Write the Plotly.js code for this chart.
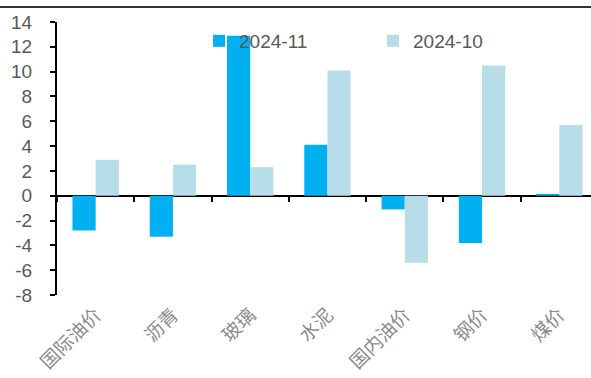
<!DOCTYPE html>
<html>
<head>
<meta charset="utf-8">
<script src="https://cdn.plot.ly/plotly-3.0.1.min.js"></script>
<style>html,body{margin:0;padding:0;background:#fff;}#chart{width:591px;height:378px;}</style>
</head>
<body>
<div id="chart"></div>
<script>
const categories = ["国际油价", "沥青", "玻璃", "水泥", "国内油价", "钢价", "煤价"];
const series2024_11 = [-2.8, -3.3, 12.9, 4.1, -1.1, -3.8, 0.15];
const series2024_10 = [2.9, 2.5, 2.3, 10.1, -5.4, 10.5, 5.7];
const seriesNames = ["2024-11", "2024-10"];
const yTicks = [-8, -6, -4, -2, 0, 2, 4, 6, 8, 10, 12, 14];

const traces = [
  {type: "bar", x: categories, y: series2024_11, name: seriesNames[0],
   marker: {color: "#00B0F0"}, hoverinfo: "x+y"},
  {type: "bar", x: categories, y: series2024_10, name: seriesNames[1],
   marker: {color: "#B7DEE8"}, hoverinfo: "x+y"},
  {type: "bar", x: categories, y: categories.map(() => null), xaxis: "x2",
   showlegend: false, hoverinfo: "skip", marker: {color: "rgba(0,0,0,0)"}}
];

const layout = {
  width: 591, height: 378,
  margin: {l: 57, r: 0, t: 22, b: 83},
  paper_bgcolor: "#fff", plot_bgcolor: "#fff",
  barmode: "group", bargap: 0.4, bargroupgap: 0,
  showlegend: true,
  legend: {orientation: "h", x: 0.266, xanchor: "left", y: 1.0, yanchor: "top",
    font: {family: "Liberation Sans, Arial", size: 19, color: "#595959"},
    bgcolor: "rgba(0,0,0,0)", entrywidth: 129, entrywidthmode: "pixels",
    itemwidth: 30, traceorder: "normal"},
  xaxis: {type: "category", range: [-0.5, 6.41], showline: false, ticks: "",
    showgrid: false, zeroline: false, tickangle: -45, ticklabelstandoff: 4,
    tickfont: {family: "Noto Sans CJK SC", size: 19, color: "#8c8c8c"}},
  xaxis2: {type: "category", overlaying: "x", matches: "x", anchor: "free",
    position: 8/22, side: "bottom", showline: false, showgrid: false, zeroline: false,
    ticks: "outside", ticklen: 5, tickwidth: 2, tickcolor: "#000",
    tickson: "boundaries", showticklabels: false},
  yaxis: {range: [-8, 14], tickvals: yTicks, ticktext: yTicks.map(String),
    showline: true, linecolor: "#000", linewidth: 2,
    ticks: "outside", ticklen: 5, tickwidth: 2, tickcolor: "#000",
    showgrid: false, zeroline: true, zerolinecolor: "#000", zerolinewidth: 2,
    ticklabelstandoff: 14,
    tickfont: {family: "Liberation Sans, Arial", size: 19, color: "#595959"}},
  shapes: [
    {type: "line", xref: "paper", yref: "paper", x0: -0.11, x1: 1, y0: 1.055, y1: 1.055,
     line: {color: "#333", width: 2}}
  ]
};

Plotly.newPlot("chart", traces, layout, {displayModeBar: false, staticPlot: true});
</script>
</body>
</html>
